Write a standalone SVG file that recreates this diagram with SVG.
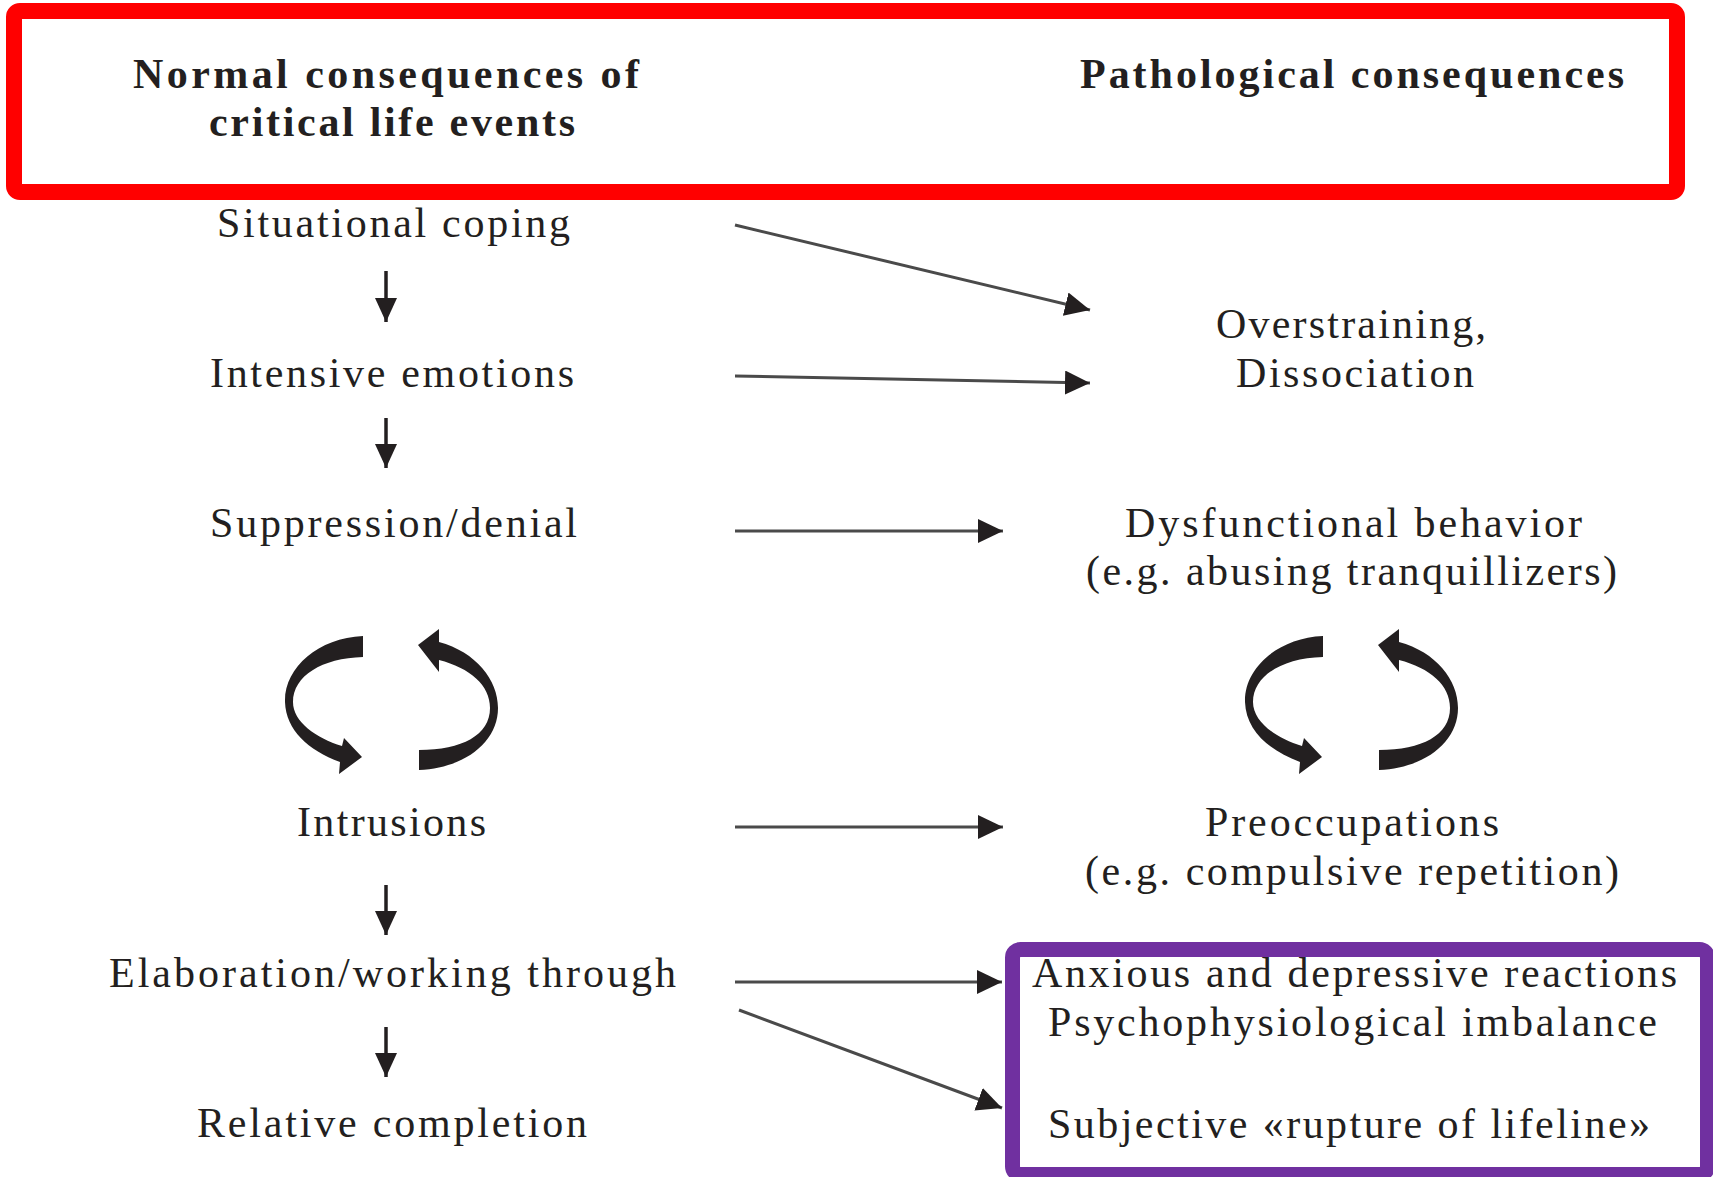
<svg xmlns="http://www.w3.org/2000/svg" xmlns:xlink="http://www.w3.org/1999/xlink" width="1713" height="1177" viewBox="0 0 1713 1177">
<style>
  .hd { font-family: "Liberation Serif", "Times New Roman", serif; font-weight: bold; font-size: 42px; fill: #231F20; }
  .tx { font-family: "Liberation Serif", "Times New Roman", serif; font-size: 42px; fill: #231F20; }
  .conn { stroke: #4a4a4a; stroke-width: 3; fill: none; }
  .vconn { stroke: #231F20; stroke-width: 3.5; fill: none; }
  .cyc { fill: #231F20; }
</style>
<defs>
  <marker id="ah" markerUnits="userSpaceOnUse" markerWidth="26" markerHeight="26" refX="25" refY="12" orient="auto">
    <path d="M0,0 L25,12 L0,24 Z" fill="#231F20"/>
  </marker>
  <marker id="ahv" markerUnits="userSpaceOnUse" markerWidth="26" markerHeight="24" refX="24" refY="11" orient="auto">
    <path d="M0,0 L24,11 L0,22 Z" fill="#231F20"/>
  </marker>
  <g id="cycle">
    <path class="cyc" d="M363 636 C318 638 284 668 285 702 C286 730 308 750 340 762 L339 774 L362 757 L344 738 L342 746 C316 738 293 722 293 702 C293 676 322 658 363 657 Z"/>
    <path class="cyc" d="M419 770 C465 768 498 742 498 708 C498 680 476 652 439 642 L439 629 L418 645 L439 672 L439 660 C470 668 490 685 490 708 C490 735 462 750 419 750 Z"/>
  </g>
</defs>
<rect width="1713" height="1177" fill="#ffffff"/>

<g id="header">
  <rect x="14" y="11" width="1663" height="181" rx="6" fill="none" stroke="#FF0000" stroke-width="16"/>
  <text class="hd" x="133" y="88" textLength="506" lengthAdjust="spacing">Normal consequences of</text>
  <text class="hd" x="209" y="136" textLength="366" lengthAdjust="spacing">critical life events</text>
  <text class="hd" x="1080" y="88" textLength="544" lengthAdjust="spacing">Pathological consequences</text>
</g>

<g id="n-situational"><text class="tx" x="217" y="237" textLength="353" lengthAdjust="spacing">Situational coping</text></g>
<g id="n-intensive"><text class="tx" x="210" y="387" textLength="364" lengthAdjust="spacing">Intensive emotions</text></g>
<g id="n-suppression"><text class="tx" x="210" y="537" textLength="367" lengthAdjust="spacing">Suppression/denial</text></g>
<g id="n-intrusions"><text class="tx" x="297" y="836" textLength="189" lengthAdjust="spacing">Intrusions</text></g>
<g id="n-elaboration"><text class="tx" x="109" y="987" textLength="567" lengthAdjust="spacing">Elaboration/working through</text></g>
<g id="n-completion"><text class="tx" x="197" y="1137" textLength="390" lengthAdjust="spacing">Relative completion</text></g>

<g id="n-overstraining">
  <text class="tx" x="1216" y="338" textLength="270" lengthAdjust="spacing">Overstraining,</text>
  <text class="tx" x="1236" y="387" textLength="238" lengthAdjust="spacing">Dissociation</text>
</g>
<g id="n-dysfunctional">
  <text class="tx" x="1125" y="537" textLength="457" lengthAdjust="spacing">Dysfunctional behavior</text>
  <text class="tx" x="1086" y="585" textLength="531" lengthAdjust="spacing">(e.g. abusing tranquillizers)</text>
</g>
<g id="n-preoccupations">
  <text class="tx" x="1205" y="836" textLength="294" lengthAdjust="spacing">Preoccupations</text>
  <text class="tx" x="1085" y="885" textLength="534" lengthAdjust="spacing">(e.g. compulsive repetition)</text>
</g>
<g id="n-anxious">
  <rect x="1012.5" y="949.5" width="695" height="225" rx="8" fill="none" stroke="#7030A0" stroke-width="15"/>
  <text class="tx" x="1032" y="987" textLength="645" lengthAdjust="spacing">Anxious and depressive reactions</text>
  <text class="tx" x="1048" y="1036" textLength="609" lengthAdjust="spacing">Psychophysiological imbalance</text>
  <text class="tx" x="1048" y="1138" textLength="602" lengthAdjust="spacing">Subjective «rupture of lifeline»</text>
</g>

<g id="cycle-left"><use xlink:href="#cycle" href="#cycle"/></g>
<g id="cycle-right"><use xlink:href="#cycle" href="#cycle" transform="translate(960,0)"/></g>

<g id="connectors">
  <line class="vconn" x1="386" y1="271" x2="386" y2="322" marker-end="url(#ahv)"/>
  <line class="vconn" x1="386" y1="418" x2="386" y2="468" marker-end="url(#ahv)"/>
  <line class="vconn" x1="386" y1="885" x2="386" y2="935" marker-end="url(#ahv)"/>
  <line class="vconn" x1="386" y1="1027" x2="386" y2="1077" marker-end="url(#ahv)"/>
  <line class="conn" x1="735" y1="225" x2="1090" y2="310" marker-end="url(#ah)"/>
  <line class="conn" x1="735" y1="376" x2="1090" y2="383" marker-end="url(#ah)"/>
  <line class="conn" x1="735" y1="531" x2="1003" y2="531" marker-end="url(#ah)"/>
  <line class="conn" x1="735" y1="827" x2="1003" y2="827" marker-end="url(#ah)"/>
  <line class="conn" x1="735" y1="982" x2="1002" y2="982" marker-end="url(#ah)"/>
  <line class="conn" x1="739" y1="1010" x2="1002" y2="1108" marker-end="url(#ah)"/>
</g>
</svg>
